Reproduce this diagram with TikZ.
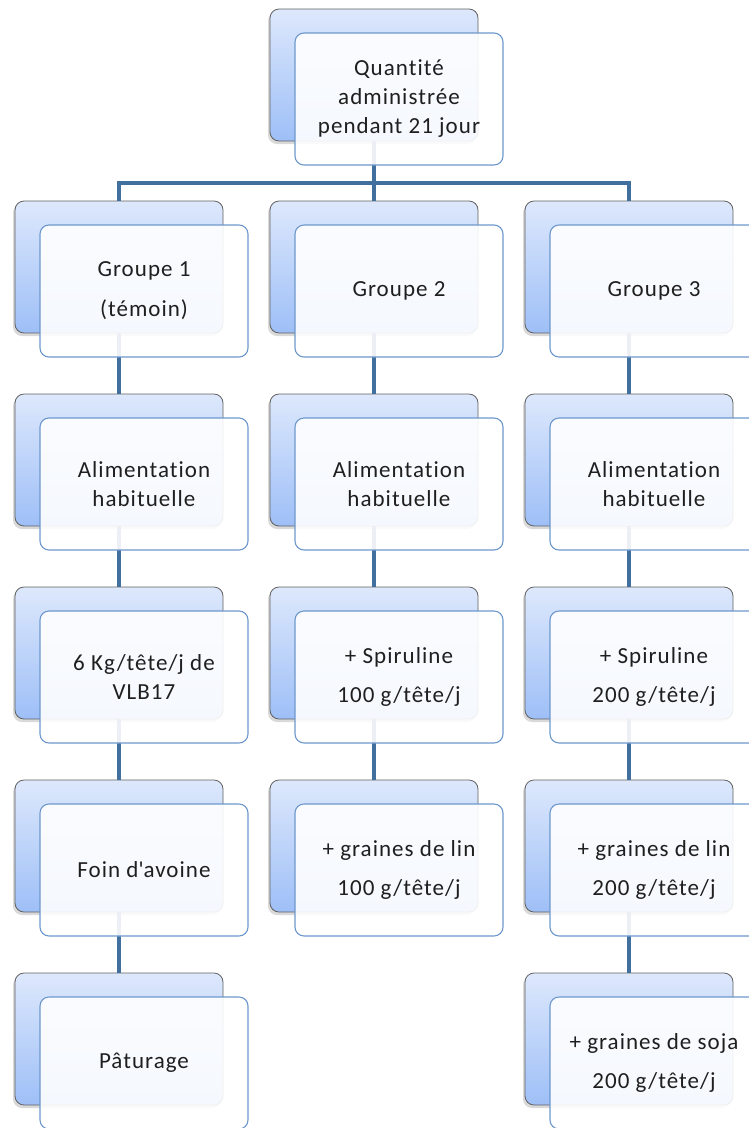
\documentclass[tikz,border=0pt]{standalone}
\usepackage{fontspec}
\setmainfont{Carlito}[Ligatures=NoCommon, LetterSpace=4.5]
\usepackage{tikz}
\usetikzlibrary{shadows}
\usepackage{xcolor}

\definecolor{backtop}{HTML}{DDE8FC}
\definecolor{backbottom}{HTML}{9EBFF7}
\definecolor{frontline}{HTML}{6D98CC}
\definecolor{linkblue}{HTML}{41709F}

\tikzset{
	backbox/.style={draw=gray!75!black, line width=0.8pt, rounded corners=9pt, top color=backtop, bottom color=backbottom, minimum width=208pt, minimum height=132pt, drop shadow={shadow xshift=-2pt, shadow yshift=-3pt, opacity=0.3}},
	frontbox/.style={draw=frontline, line width=1.1pt, rounded corners=9pt, fill=white, fill opacity=0.9, text opacity=1, minimum width=208pt, minimum height=132pt, align=center, text=black!88, font=\fontsize{23}{29}\selectfont},
	link/.style={draw=linkblue, line width=4.5pt}
}

\begin{document}
\begin{tikzpicture}[x=1pt, y=-1pt] % feeding groups
	
	\useasboundingbox (0,0) rectangle (748,1128);
	
	%back boxes
	\node[backbox] (top) at (374,75) {};
	
	\node[backbox] (g1) at (119,267) {};
	\node[backbox] (a1) at (119,460) {};
	\node[backbox] (k1) at (119,653) {};
	\node[backbox] (f1) at (119,846) {};
	\node[backbox] (p1) at (119,1039) {};
	
	\node[backbox] (g2) at (374,267) {};
	\node[backbox] (a2) at (374,460) {};
	\node[backbox] (s2) at (374,653) {};
	\node[backbox] (l2) at (374,846) {};
	
	\node[backbox] (g3) at (629,267) {};
	\node[backbox] (a3) at (629,460) {};
	\node[backbox] (s3) at (629,653) {};
	\node[backbox] (l3) at (629,846) {};
	\node[backbox] (j3) at (629,1039) {};
	
	%links
	\coordinate (bus) at (374,183);
	\draw[link] (top.south) -- (bus);
	\draw[link] (g1.north) |- (bus) -| (g3.north);
	\draw[link] (bus) -- (g2.north);
	
	\draw[link] (g1.south) -- (a1.north);
	\draw[link] (a1.south) -- (k1.north);
	\draw[link] (k1.south) -- (f1.north);
	\draw[link] (f1.south) -- (p1.north);
	
	\draw[link] (g2.south) -- (a2.north);
	\draw[link] (a2.south) -- (s2.north);
	\draw[link] (s2.south) -- (l2.north);
	
	\draw[link] (g3.south) -- (a3.north);
	\draw[link] (a3.south) -- (s3.north);
	\draw[link] (s3.south) -- (l3.north);
	\draw[link] (l3.south) -- (j3.north);
	
	%labels
	\node[frontbox] (topl) at ([shift={(25pt,-24pt)}]top.center) {Quantité\\administrée\\pendant 21 jour};
	
	\node[frontbox] (g1l) at ([shift={(25pt,-24pt)}]g1.center) {Groupe 1\\[11pt](témoin)};
	\node[frontbox] (a1l) at ([shift={(25pt,-24pt)}]a1.center) {Alimentation\\habituelle};
	\node[frontbox] (k1l) at ([shift={(25pt,-24pt)}]k1.center) {6 Kg/tête/j de\\VLB17};
	\node[frontbox] (f1l) at ([shift={(25pt,-24pt)}]f1.center) {Foin d\textquotesingle avoine};
	\node[frontbox] (p1l) at ([shift={(25pt,-24pt)}]p1.center) {Pâturage};
	
	\node[frontbox] (g2l) at ([shift={(25pt,-24pt)}]g2.center) {Groupe 2};
	\node[frontbox] (a2l) at ([shift={(25pt,-24pt)}]a2.center) {Alimentation\\habituelle};
	\node[frontbox] (s2l) at ([shift={(25pt,-24pt)}]s2.center) {+ Spiruline\\[10pt]100 g/tête/j};
	\node[frontbox] (l2l) at ([shift={(25pt,-24pt)}]l2.center) {+ graines de lin\\[10pt]100 g/tête/j};
	
	\node[frontbox] (g3l) at ([shift={(25pt,-24pt)}]g3.center) {Groupe 3};
	\node[frontbox] (a3l) at ([shift={(25pt,-24pt)}]a3.center) {Alimentation\\habituelle};
	\node[frontbox] (s3l) at ([shift={(25pt,-24pt)}]s3.center) {+ Spiruline\\[10pt]200 g/tête/j};
	\node[frontbox] (l3l) at ([shift={(25pt,-24pt)}]l3.center) {+ graines de lin\\[10pt]200 g/tête/j};
	\node[frontbox] (j3l) at ([shift={(25pt,-24pt)}]j3.center) {+ graines de soja\\[10pt]200 g/tête/j};
	
\end{tikzpicture}
\end{document}
